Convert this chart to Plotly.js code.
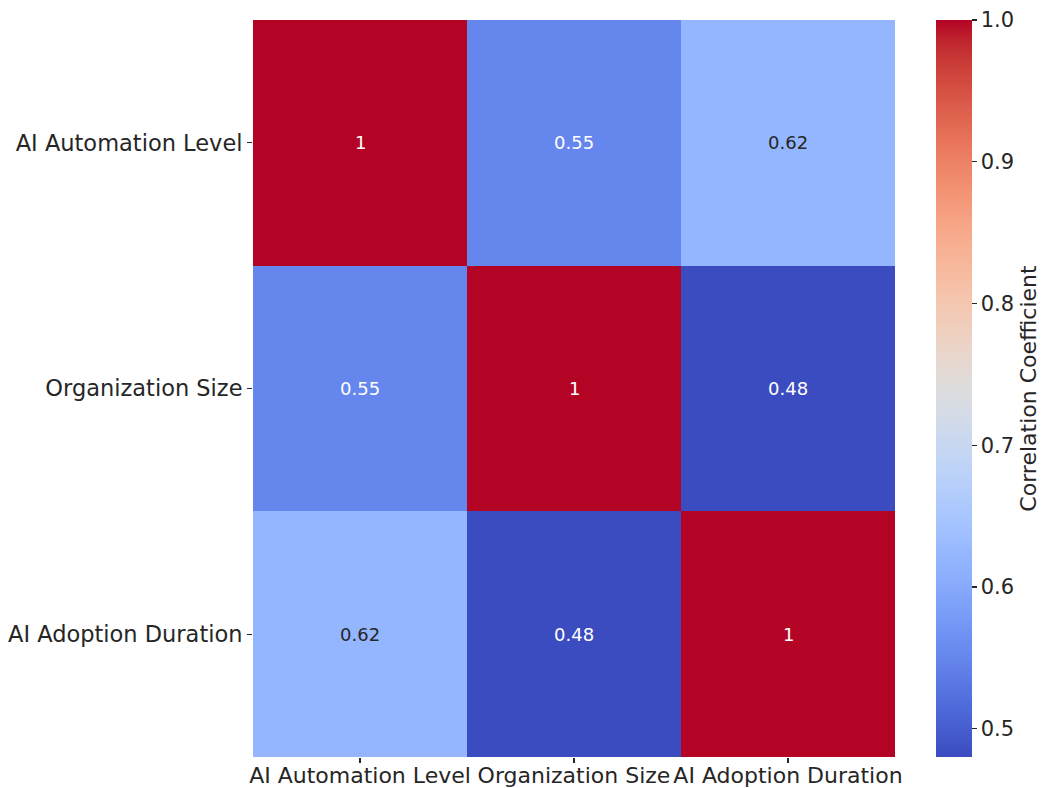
<!DOCTYPE html>
<html>
<head>
<meta charset="utf-8">
<script src="https://cdn.plot.ly/plotly-3.0.1.min.js"></script>
<style>html,body{margin:0;padding:0;background:#fff;}#chart{width:1043px;height:788px;}</style>
</head>
<body>
<div id="chart"></div>
<script>
const variables = ["AI Automation Level", "Organization Size", "AI Adoption Duration"];
const row1 = [1.00, 0.55, 0.62];
const row2 = [0.55, 1.00, 0.48];
const row3 = [0.62, 0.48, 1.00];
const colorbarTitle = "Correlation Coefficient";
const colorbarTicks = [0.5, 0.6, 0.7, 0.8, 0.9, 1.0];

const z = [row1, row2, row3];

// matplotlib "coolwarm" sampled at 33 points
const coolwarmRGB = [
  [59,76,192],[68,90,204],[77,104,215],[87,117,225],[98,130,234],[108,142,241],
  [119,154,247],[130,165,251],[141,176,254],[152,185,255],[163,194,255],[174,201,253],
  [184,208,249],[194,213,244],[204,217,238],[213,219,230],[221,221,221],[229,216,209],
  [236,211,197],[241,204,184],[245,196,173],[247,187,160],[247,177,148],[247,167,136],
  [244,154,123],[241,141,111],[236,127,99],[229,112,88],[222,96,77],[213,80,66],
  [203,62,56],[192,40,47],[180,4,38]
];
const colorscale = coolwarmRGB.map((c, i) => [i / (coolwarmRGB.length - 1), `rgb(${c[0]},${c[1]},${c[2]})`]);

const flat = z.flat();
const zmin = Math.min(...flat), zmax = Math.max(...flat);

const textColor = "#262626";
const font = "DejaVu Sans, sans-serif";

const annotations = [];
z.forEach((row, i) => {
  row.forEach((v, j) => {
    const t = (v - zmin) / (zmax - zmin);
    const light = t > 0.15 && t < 0.7;
    annotations.push({
      x: variables[j], y: variables[i], xref: "x", yref: "y",
      text: String(+v.toFixed(2)), showarrow: false,
      font: {family: font, size: 18, color: light ? textColor : "#ffffff"}
    });
  });
});

const trace = {
  type: "heatmap",
  x: variables, y: variables, z: z,
  zmin: zmin, zmax: zmax,
  colorscale: colorscale,
  xgap: 0, ygap: 0,
  hoverinfo: "x+y+z",
  colorbar: {
    x: 1.0639, xanchor: "left", xref: "paper",
    y: 0.5, yanchor: "middle",
    len: 1, lenmode: "fraction", ypad: 0, xpad: 0,
    thickness: 36, thicknessmode: "pixels",
    outlinewidth: 0,
    ticks: "outside", ticklen: 5, tickwidth: 1.2, tickcolor: textColor,
    tickvals: colorbarTicks, ticktext: colorbarTicks.map(v => v.toFixed(1)),
    tickfont: {family: font, size: 21, color: textColor},
    title: {text: colorbarTitle, side: "right", font: {family: font, size: 22, color: textColor}}
  }
};

const layout = {
  width: 1043, height: 788,
  margin: {l: 253, r: 148, t: 20, b: 31, autoexpand: false},
  paper_bgcolor: "#ffffff", plot_bgcolor: "#ffffff",
  xaxis: {
    type: "category", showgrid: false, zeroline: false, showline: false,
    ticks: "outside", ticklen: 5, tickwidth: 1.2, tickcolor: textColor,
    tickfont: {family: font, size: 22, color: textColor}, tickangle: 0,
    ticklabelstandoff: -6,
    automargin: false
  },
  yaxis: {
    type: "category", autorange: "reversed", showgrid: false, zeroline: false, showline: false,
    ticks: "outside", ticklen: 5, tickwidth: 1.2, tickcolor: textColor,
    tickfont: {family: font, size: 22.5, color: textColor},
    automargin: false
  },
  annotations: annotations,
  showlegend: false
};

Plotly.newPlot("chart", [trace], layout, {displayModeBar: false, staticPlot: true});
</script>
</body>
</html>
